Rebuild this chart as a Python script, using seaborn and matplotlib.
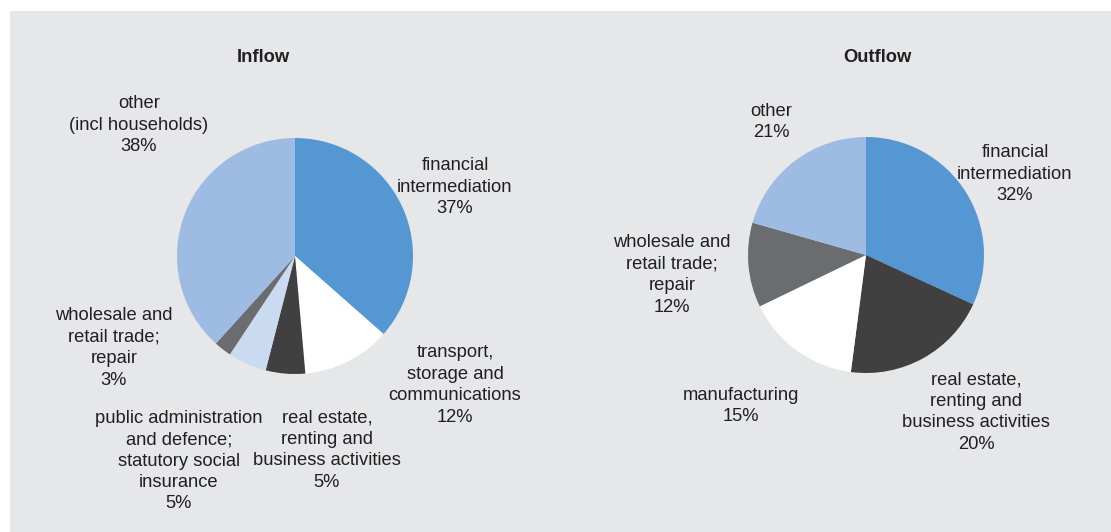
import matplotlib
matplotlib.use("Agg")
import matplotlib.pyplot as plt
import seaborn as sns

sns.set_theme(style="white")
plt.rcParams['font.family'] = ['Liberation Sans', 'DejaVu Sans']

# ---- data ----
inflow_labels = ["financial\nintermediation\n37%",
                 "transport,\nstorage and\ncommunications\n12%",
                 "real estate,\nrenting and\nbusiness activities\n5%",
                 "public administration\nand defence;\nstatutory social\ninsurance\n5%",
                 "wholesale and\nretail trade;\nrepair\n3%",
                 "other\n(incl households)\n38%"]
inflow_values = [36.5, 12.1, 5.4, 5.3, 2.4, 38.3]

outflow_labels = ["financial\nintermediation\n32%",
                  "real estate,\nrenting and\nbusiness activities\n20%",
                  "manufacturing\n15%",
                  "wholesale and\nretail trade;\nrepair\n12%",
                  "other\n21%"]
outflow_values = [31.9, 20.2, 15.8, 11.6, 20.6]

# ---- styles / positions ----
inflow_colors = ["#5597d3", "#ffffff", "#404040", "#cadaf1", "#6b6c70", "#9ebbe3"]
outflow_colors = ["#5597d3", "#404040", "#ffffff", "#6b6c70", "#9ebbe3"]

W, H = 1111, 532
R = 118
inflow_center = (295, 256)
outflow_center = (866, 255)
inflow_label_pos = [(455, 187), (455, 385), (327, 450), (179, 461), (114, 348), (139, 125)]
outflow_label_pos = [(1015, 174), (976, 412), (741, 406), (672, 275), (771, 122)]
text_color = "#231f20"
fs = 13.2
ls = 1.34

fig = plt.figure(figsize=(W / 100, H / 100), dpi=100)
fig.patch.set_facecolor("white")
bg = plt.Rectangle((10 / W, 0), 1 - 10 / W, 1 - 11 / H, transform=fig.transFigure,
                   facecolor="#e6e7e8", edgecolor="none", zorder=-10)
fig.patches.append(bg)


def draw_pie(center, values, colors, labels, label_pos, title, title_x):
    cx, cy = center
    ax = fig.add_axes([(cx - R) / W, (H - cy - R) / H, 2 * R / W, 2 * R / H])
    ax.set_facecolor("none")
    ax.pie(values, colors=colors, startangle=90, counterclock=False, radius=1,
           wedgeprops=dict(linewidth=0))
    ax.set_xlim(-1, 1)
    ax.set_ylim(-1, 1)
    ax.set_aspect("equal")
    ax.axis("off")
    for lab, (px, py) in zip(labels, label_pos):
        fig.text(px / W, 1 - py / H, lab, ha="center", va="center", fontsize=fs,
                 color=text_color, linespacing=ls)
    fig.text(title_x / W, 1 - 57 / H, title, ha="center", va="center", fontsize=fs,
             fontweight="bold", color=text_color)


draw_pie(inflow_center, inflow_values, inflow_colors, inflow_labels, inflow_label_pos,
         "Inflow", 263)
draw_pie(outflow_center, outflow_values, outflow_colors, outflow_labels, outflow_label_pos,
         "Outflow", 877)

fig.savefig("out.png", dpi=100, facecolor=fig.get_facecolor())
